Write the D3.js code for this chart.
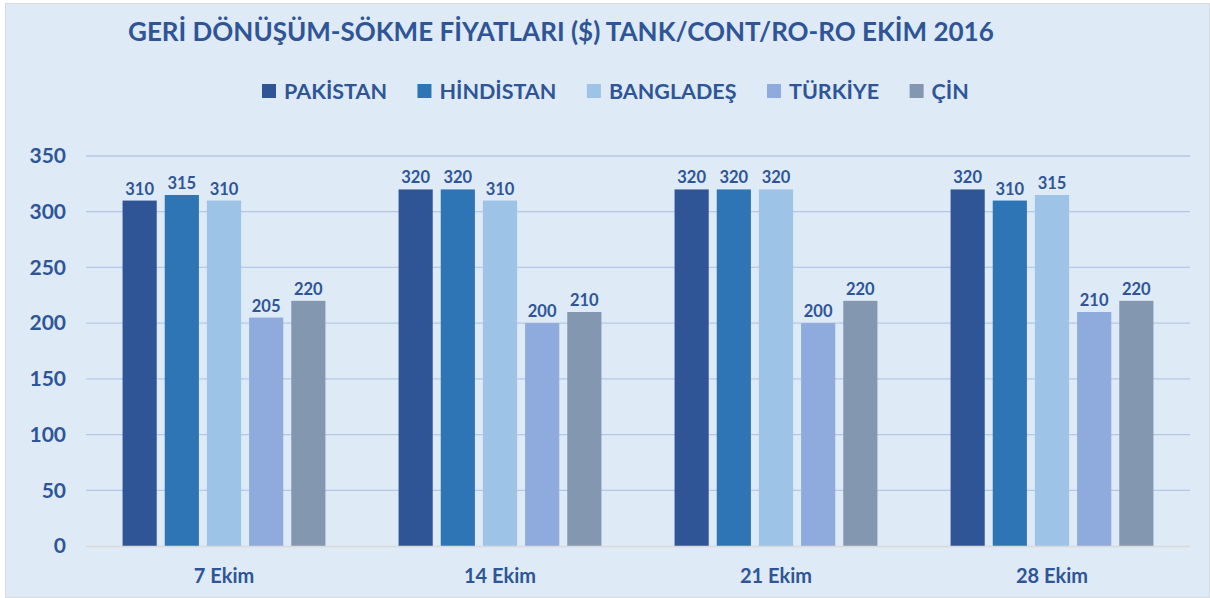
<!DOCTYPE html>
<html>
<head>
<meta charset="utf-8">
<script src="https://cdn.jsdelivr.net/npm/d3@7"></script>
<style>
  body { margin: 0; background: #fff; }
  text { font-family: Lato, "Open Sans", sans-serif; font-weight: bold; }
</style>
</head>
<body>
<div id="vizcontainer"></div>
<script>
const width = 1210,
  height = 598;

const categories = ['7 Ekim', '14 Ekim', '21 Ekim', '28 Ekim'];
const series = ['PAKİSTAN', 'HİNDİSTAN', 'BANGLADEŞ', 'TÜRKİYE', 'ÇİN'];
const pakistan = [310, 320, 320, 320];
const hindistan = [315, 320, 320, 310];
const banglades = [310, 310, 320, 315];
const turkiye = [205, 200, 200, 210];
const cin = [220, 210, 220, 220];
const yTicks = [0, 50, 100, 150, 200, 250, 300, 350];
const colors = ['#2f5597', '#2e75b6', '#9dc3e6', '#8faadc', '#8497b0'];

const values = [pakistan, hindistan, banglades, turkiye, cin];
const textColor = '#2f5597';

const viz = d3.select('#vizcontainer')
  .append('svg')
  .attr('width', width)
  .attr('height', height);

// chart area background
viz.append('rect')
  .attr('x', 5.5).attr('y', 3.5)
  .attr('width', width - 6).attr('height', height - 4)
  .attr('fill', '#deeaf6')
  .attr('stroke', '#d9d9d9');

const x0 = d3.scaleBand()
  .domain(categories)
  .range([86, 1190])
  .paddingInner(0.265)
  .paddingOuter(0.1325);

const x1 = d3.scaleBand()
  .domain(series)
  .range([0, x0.bandwidth()])
  .paddingInner(0.19);

const y = d3.scaleLinear()
  .domain([0, 350])
  .range([546, 156]);

// gridlines
viz.append('g')
  .selectAll('line')
  .data(yTicks.filter(d => d > 0))
  .join('line')
  .attr('x1', 86).attr('x2', 1190)
  .attr('y1', d => y(d)).attr('y2', d => y(d))
  .attr('stroke', '#b4c7e7')
  .attr('stroke-width', 1.3);

// y axis labels
const yAxis = viz.append('g')
  .attr('transform', 'translate(66,0)')
  .call(d3.axisLeft(y).tickValues(yTicks).tickSize(0).tickPadding(0));
yAxis.select('.domain').remove();
yAxis.selectAll('text')
  .attr('fill', textColor)
  .style('font-size', '21px')
  .style('font-family', 'Lato, sans-serif');

// bars
const rows = categories.map((c, i) => ({ cat: c, vals: series.map((s, j) => ({ s, v: values[j][i], c: colors[j] })) }));

const groups = viz.append('g')
  .selectAll('g')
  .data(rows)
  .join('g')
  .attr('transform', d => `translate(${x0(d.cat)},0)`);

groups.selectAll('rect')
  .data(d => d.vals)
  .join('rect')
  .attr('x', d => x1(d.s))
  .attr('y', d => y(d.v))
  .attr('width', x1.bandwidth())
  .attr('height', d => y(0) - y(d.v))
  .attr('fill', d => d.c);

groups.selectAll('text')
  .data(d => d.vals)
  .join('text')
  .attr('x', d => x1(d.s) + x1.bandwidth() / 2)
  .attr('y', d => y(d.v) - 6)
  .attr('text-anchor', 'middle')
  .attr('fill', textColor)
  .style('font-size', '16.5px')
  .text(d => d.v);

// baseline
viz.append('line')
  .attr('x1', 86).attr('x2', 1190)
  .attr('y1', y(0) + 0.5).attr('y2', y(0) + 0.5)
  .attr('stroke', '#d9d9d9')
  .attr('stroke-width', 1.5);

// x axis labels
const xAxis = viz.append('g')
  .attr('transform', `translate(0,${y(0)})`)
  .call(d3.axisBottom(x0).tickSize(0).tickPadding(23));
xAxis.select('.domain').remove();
xAxis.selectAll('text')
  .attr('fill', textColor)
  .style('font-size', '20px')
  .style('font-family', 'Lato, sans-serif');

// title
viz.append('text')
  .attr('x', 128)
  .attr('y', 41)
  .attr('fill', textColor)
  .style('font-size', '26px')
  .text('GERİ DÖNÜŞÜM-SÖKME FİYATLARI ($) TANK/CONT/RO-RO EKİM 2016');

// legend
let lx = 262;
series.forEach((s, i) => {
  viz.append('rect')
    .attr('x', lx).attr('y', 84)
    .attr('width', 14).attr('height', 14)
    .attr('fill', colors[i]);
  const t = viz.append('text')
    .attr('x', lx + 22)
    .attr('y', 99)
    .attr('fill', textColor)
    .style('font-size', '21.5px')
    .text(s);
  lx += 22 + t.node().getComputedTextLength() + 30.5;
});
</script>
</body>
</html>
